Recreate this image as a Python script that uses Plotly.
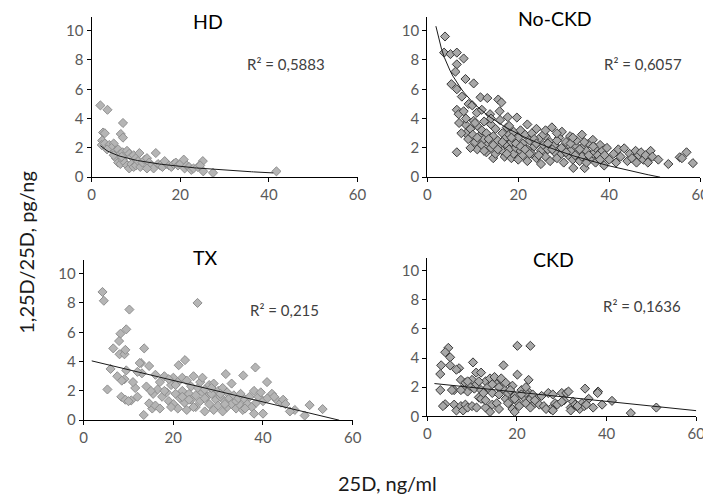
import numpy as np
import plotly.graph_objects as go

# ---------------- data ----------------
hd_x = [2.0, 3.6, 7.1, 2.6, 3.0, 6.6, 7.1, 2.4, 2.3, 3.0, 4.0, 5.0, 4.5, 3.5, 5.5, 6.0, 6.5, 7.0,
        7.5, 8.0, 8.5, 9.0, 9.5, 10.0, 10.8, 5.5, 6.0, 6.5, 7.0, 7.5, 8.0, 8.5, 9.0, 9.5, 10.0, 10.5,
        11.0, 11.5, 12.0, 12.5, 13.0, 13.5, 14.0, 14.5, 15.0, 15.5, 16.0, 17.0, 17.5, 18.0, 18.5, 19.0,
        19.5, 20.0, 20.8, 21.0, 21.5, 22.0, 22.5, 23.0, 24.0, 25.1, 25.2, 24.5, 27.4, 41.7, 6.8, 5.0,
        12.5, 16.5]
hd_y = [4.9, 4.6, 3.7, 3.05, 3.0, 2.95, 2.7, 2.5, 2.2, 2.3, 2.2, 2.3, 2.0, 1.9, 1.8, 1.9, 1.6, 1.7,
        1.5, 1.8, 1.6, 1.4, 1.5, 1.3, 1.65, 1.3, 1.0, 0.9, 1.2, 1.0, 0.8, 0.6, 0.9, 0.7, 0.8, 1.1,
        0.7, 1.0, 1.2, 1.3, 1.0, 0.8, 0.6, 1.65, 0.9, 0.8, 0.7, 0.9, 0.8, 0.7, 0.9, 1.0,
        0.8, 0.9, 1.2, 0.6, 0.8, 0.7, 0.5, 0.6, 0.7, 1.1, 0.4, 0.8, 0.3, 0.4, 1.4, 1.5,
        0.6, 1.1]

nockd_x = [3.9, 3.7, 5.1, 6.5, 8.0, 6.5, 6.2, 8.4, 10.2, 5.3, 6.5, 7.6, 11.7, 13.2, 15.6, 16.3, 9.1, 9.9,
           6.5, 6.9, 8.0, 10.9, 13.8, 15.9, 17.7, 19.7, 8.4, 10.2, 6.5, 14.5,
           8.5, 9.0, 9.5, 10.0, 10.5, 11.0, 11.0, 11.5, 12.0, 12.0, 12.5, 12.5, 13.0, 13.0, 13.5, 14.0,
           14.0, 14.5, 15.0, 15.0, 15.5, 16.0, 16.0, 16.5, 16.5, 17.0, 17.0, 17.5, 17.5, 18.0, 18.0,
           18.5, 18.5, 19.0, 19.0, 19.5, 20.0, 20.0, 20.5, 20.5,
           21.0, 21.0, 21.5, 22.0, 22.0, 22.5, 23.0, 23.0, 23.5, 24.0, 24.0, 24.5, 25.0, 25.0, 25.5,
           26.0, 26.0, 26.5, 27.0, 27.0, 27.4, 28.0, 28.0, 28.5, 29.0, 29.6, 29.5, 30.0, 30.0,
           30.5, 31.0, 31.4, 31.5, 32.0, 32.1, 32.5, 32.8, 33.0, 33.5, 34.0, 34.0, 34.6, 35.0, 35.0,
           35.5, 36.0, 36.4, 36.5, 37.0, 37.0, 37.5, 38.0, 38.0, 38.5, 38.9, 39.0, 39.5, 40.0,
           41.0, 41.5, 42.0, 42.5, 43.3, 44.0, 44.5, 45.0, 45.8, 46.0, 46.5, 47.0, 47.5, 48.0, 48.5,
           49.1, 49.5, 50.8, 53.0, 55.5, 56.0, 57.0, 58.4,
           11.0, 12.5, 13.5, 14.5, 15.5, 16.5, 17.5, 18.5, 19.5, 20.5, 21.5, 22.5, 23.5, 24.5, 25.5,
           26.5, 27.5, 28.5, 29.5, 30.5, 31.5, 32.5, 33.5, 34.5, 35.5, 36.5, 9.5, 10.5, 7.5, 8.5,
           7.0, 12.0, 14.0, 18.0, 22.0, 24.0, 26.0, 28.5, 32.0, 34.0]
nockd_y = [9.6, 8.5, 8.4, 8.5, 8.1, 7.7, 7.2, 6.7, 6.4, 6.35, 6.0, 5.5, 5.45, 5.4, 5.3, 5.1, 5.0, 4.9,
           4.6, 4.3, 4.5, 4.4, 4.3, 4.5, 4.1, 4.07, 3.6, 3.85, 1.7, 1.3,
           3.0, 2.6, 3.3, 2.9, 2.4, 3.5, 1.9, 2.8, 3.2, 2.2, 3.8, 2.6, 1.7, 3.0, 2.3, 3.6,
           2.0, 2.8, 3.3, 1.6, 2.5, 3.9, 2.1, 1.8, 3.0, 2.6, 1.4, 3.4, 2.2, 1.9, 2.9,
           1.3, 2.4, 3.1, 1.6, 2.0, 2.7, 1.2, 3.2, 1.8,
           2.3, 1.5, 2.9, 1.9, 1.1, 2.5, 3.0, 1.6, 2.1, 1.3, 3.3, 2.6, 1.8, 0.9, 2.2,
           2.8, 1.4, 1.9, 2.4, 1.1, 3.4, 1.7, 2.2, 1.3, 2.7, 3.1, 1.6, 2.0, 1.0,
           2.4, 1.5, 2.8, 1.8, 1.2, 0.63, 2.2, 2.5, 1.6, 1.1, 2.0, 1.4, 0.62, 1.8, 1.0,
           2.3, 1.3, 2.55, 1.6, 2.0, 1.0, 1.5, 2.2, 1.2, 1.8, 0.8, 1.5, 2.0, 1.2,
           1.6, 1.0, 1.9, 1.4, 1.97, 1.1, 1.6, 1.3, 1.8, 1.0, 1.5, 1.7, 1.2, 1.5, 1.0,
           1.8, 1.4, 1.2, 0.9, 1.36, 1.3, 1.7, 0.96,
           2.7, 1.8, 2.6, 2.2, 1.9, 2.4, 1.6, 2.7, 2.3, 2.1, 1.9, 1.6, 2.6, 1.5, 2.9,
           2.3, 1.9, 2.5, 2.0, 1.7, 2.3, 1.5, 1.9, 2.4, 1.5, 2.1, 2.0, 3.7, 3.0, 4.0,
           3.7, 4.6, 4.0, 3.5, 3.6, 2.3, 3.2, 3.0, 2.7, 2.9]

tx_x = [4.2, 4.5, 25.4, 10.2, 9.5, 8.2, 7.9, 6.6, 13.5, 8.0, 9.1, 9.3, 5.3, 22.6, 21.2, 12.8, 14.6,
        38.3, 31.7, 35.6, 9.5, 9.1, 8.4, 9.3, 10.6, 11.5, 12.0, 13.4, 15.3, 14.6, 50.4, 53.3, 49.3,
        47.1, 40.9,
        15.5, 16.0, 16.5, 17.0, 17.5, 18.0, 18.5, 19.0, 19.5, 20.0, 20.0, 20.5, 21.0, 21.0, 21.5,
        22.0, 22.0, 22.5, 23.0, 23.0, 23.5, 24.0, 24.0, 24.5, 25.0, 25.0, 25.5, 26.0, 26.0, 26.5,
        27.0, 27.0, 27.5, 28.0, 28.0, 28.5, 29.0, 29.0, 29.5, 30.0, 30.0, 30.5, 31.0, 31.0, 31.5,
        32.0, 32.0, 32.5, 33.0, 33.5, 34.0, 34.0, 34.5, 35.0, 35.5, 36.0, 36.5, 37.0, 37.5, 38.0,
        38.0, 38.5, 39.0, 39.5, 40.0, 40.0, 41.0, 42.0, 43.0, 44.0, 44.5, 46.0, 18.0, 16.0, 17.0,
        19.0, 14.0, 13.0, 12.5, 11.0, 10.0, 6.0, 7.5, 8.5, 12.0, 15.0, 20.5, 23.5, 26.5, 28.5,
        30.5, 33.0, 35.0, 36.0, 42.5, 45.0, 31.5, 27.0, 24.5, 22.0, 19.5]
tx_y = [8.75, 8.15, 8.0, 7.55, 6.2, 5.9, 5.4, 4.9, 4.9, 4.5, 4.5, 4.8, 2.1, 4.1, 3.75, 3.9, 3.7,
        3.6, 3.15, 3.05, 3.4, 2.8, 1.6, 1.4, 1.35, 2.2, 1.6, 0.36, 0.8, 1.15, 1.03, 0.76, 0.32,
        0.7, 2.6,
        1.8, 3.1, 2.1, 2.6, 1.6, 3.0, 1.9, 1.3, 2.4, 2.9, 1.1, 1.8, 2.6, 0.8, 1.5,
        2.9, 2.0, 1.2, 2.7, 0.7, 1.8, 2.3, 1.4, 3.0, 1.7, 0.9, 2.2, 2.6, 1.3, 1.9,
        0.6, 2.1, 1.6, 2.4, 1.1, 1.8, 2.5, 0.7, 1.4, 2.0, 1.0, 1.6, 2.2, 0.6, 1.3,
        1.9, 0.9, 1.5, 1.1, 1.7, 1.3, 0.8, 1.5, 1.0, 0.7, 1.4, 1.1, 1.6, 0.9, 2.0,
        0.45, 1.2, 1.6, 1.9, 0.45, 1.3, 1.5, 1.8, 1.4, 1.2, 1.4, 0.6, 2.0, 1.0, 0.8,
        2.8, 2.3, 3.2, 3.9, 2.6, 1.3, 3.5, 3.0, 2.7, 3.3, 2.0, 2.4, 1.4, 2.9, 2.2,
        1.8, 2.5, 1.8, 0.8, 1.6, 1.1, 1.1, 1.5, 0.9, 1.6, 0.9]

ckd_x = [20.1, 23.0, 4.7, 4.0, 5.1, 3.1, 5.1, 7.1, 2.9, 10.2, 17.0, 10.9, 12.0, 20.1, 22.6, 2.9,
         35.2, 38.1, 41.2, 51.1, 45.4, 4.0,
         6.0, 7.5, 8.0, 8.5, 9.0, 9.5, 10.0, 10.5, 11.0, 11.5, 12.0, 12.5, 13.0, 13.5, 14.0, 14.5,
         15.0, 15.5, 16.0, 16.5, 17.0, 17.5, 18.0, 18.5, 19.0, 19.5, 20.0, 21.0, 21.5, 22.0, 22.5,
         23.0, 23.5, 24.0, 24.5, 25.0, 26.0, 27.0, 27.5, 28.0, 28.5, 29.0, 30.0, 30.5, 31.0, 31.5,
         32.0, 32.5, 33.0, 34.0, 34.5, 35.0, 36.0, 37.0, 38.0, 39.0,
         6.0, 6.5, 7.5, 8.0, 8.5, 9.0, 10.0, 11.0, 12.0, 13.0, 14.0, 14.5, 15.5, 16.0, 18.0, 19.0,
         19.5, 20.5, 22.0, 23.0, 24.0, 25.5, 26.5, 28.0, 30.0, 32.0, 33.5, 35.5,
         6.5, 7.5, 9.0, 11.5, 12.5, 13.0, 14.5, 16.0, 17.5, 18.5, 19.5, 21.0, 22.0, 5.5, 3.5]
ckd_y = [4.84, 4.84, 4.7, 4.4, 4.05, 3.5, 3.5, 3.3, 2.9, 3.7, 3.5, 3.0, 3.0, 2.86, 2.5, 1.8,
         1.9, 1.7, 1.06, 0.6, 0.22, 0.83,
         1.8, 2.5, 1.9, 2.3, 1.7, 2.1, 2.5, 1.9, 2.2, 1.3, 1.8, 1.2, 2.4, 2.0, 2.6, 1.6,
         2.7, 2.2, 1.5, 2.6, 1.9, 1.2, 1.6, 1.0, 2.1, 1.4, 1.0, 1.8, 1.3, 0.9, 1.7,
         1.2, 1.5, 0.9, 1.2, 0.8, 0.7, 1.6, 0.5, 1.5, 0.9, 0.8, 1.6, 1.1, 1.6, 1.7,
         0.6, 1.0, 0.8, 0.5, 0.9, 0.7, 1.2, 0.6, 1.6, 0.8,
         0.8, 0.4, 0.7, 0.4, 0.8, 0.6, 0.7, 0.6, 1.2, 0.6, 0.3, 0.8, 0.9, 0.5, 0.9, 0.5,
         0.3, 0.7, 1.6, 0.6, 1.1, 1.4, 0.5, 0.4, 1.0, 0.4, 0.7, 0.8,
         3.2, 1.8, 2.4, 2.4, 1.6, 1.1, 2.2, 2.0, 2.3, 1.8, 1.2, 1.5, 2.0, 1.8, 0.7]

# trendlines: HD / No-CKD logarithmic (y = a - b*ln x), TX / CKD linear (y = a + b*x)
hd_trend = dict(kind="log", a=2.58, b=0.616, x0=2.0, x1=41.0)
nockd_trend = dict(kind="log", a=12.31, b=3.127, x0=1.9, x1=51.2)
tx_trend = dict(kind="lin", a=4.18, b=-0.0733, x0=1.8, x1=57.0)
ckd_trend = dict(kind="lin", a=2.30, b=-0.0319, x0=1.6, x1=60.0)

panel_names = ["HD", "No-CKD", "TX", "CKD"]
r2_labels = ["R² = 0,5883", "R² = 0,6057", "R² = 0,215", "R² = 0,1636"]
x_ticks = [0, 20, 40, 60]
y_ticks = [0, 2, 4, 6, 8, 10]

# ---------------- figure ----------------
W, H = 711, 495


def px(x):
    return x / W


def py(y):
    return 1 - y / H


def trend_xy(t):
    xs = np.linspace(t["x0"], t["x1"], 80)
    if t["kind"] == "log":
        ys = t["a"] - t["b"] * np.log(xs)
    else:
        ys = t["a"] + t["b"] * xs
    return xs, ys


# panel geometry in pixels: x-left (x=0), x-right (x=60), y of 0, y of 10
panels = [
    dict(x0=81, x1=352, y0=172, y10=23),
    dict(x0=423, x1=701, y0=172, y10=23),
    dict(x0=73, x1=347, y0=419, y10=270),
    dict(x0=423, x1=697, y0=415, y10=267),
]
series = [(hd_x, hd_y, hd_trend), (nockd_x, nockd_y, nockd_trend),
          (tx_x, tx_y, tx_trend), (ckd_x, ckd_y, ckd_trend)]
marker_styles = [
    dict(fill="#b5b5b5", line="#8f8f8f"),
    dict(fill="#a8a8a8", line="#3a3a3a"),
    dict(fill="#b5b5b5", line="#8f8f8f"),
    dict(fill="#a8a8a8", line="#3a3a3a"),
]
title_pos = [(200, 14), (553, 11), (197, 254), (552, 256)]
r2_pos = [(279, 57), (643, 57), (278, 307), (642, 303)]

fig = go.Figure()
YMAX = 10.9
font_fam = "Lato, 'Open Sans', sans-serif"

for i, (p, (xs, ys, tr), ms) in enumerate(zip(panels, series, marker_styles)):
    n = "" if i == 0 else str(i + 1)
    unit = (p["y0"] - p["y10"]) / 10.0
    ytop = p["y0"] - unit * YMAX
    fig.add_trace(go.Scatter(
        x=xs, y=ys, mode="markers", xaxis="x" + n, yaxis="y" + n,
        marker=dict(symbol="diamond", size=7, color=ms["fill"],
                    line=dict(color=ms["line"], width=1)),
        showlegend=False, hoverinfo="x+y"))
    tx_, ty_ = trend_xy(tr)
    fig.add_trace(go.Scatter(
        x=tx_, y=ty_, mode="lines", xaxis="x" + n, yaxis="y" + n,
        line=dict(color="#1a1a1a", width=1), showlegend=False, hoverinfo="skip"))
    fig.layout["xaxis" + n] = dict(
        domain=[px(p["x0"]), px(p["x1"])], anchor="y" + n, range=[0, 60],
        tickvals=x_ticks, ticks="outside", ticklen=4, tickcolor="#000",
        showline=True, linecolor="#000", linewidth=1, showgrid=False, zeroline=False,
        tickfont=dict(family=font_fam, size=15, color="#595959"))
    fig.layout["yaxis" + n] = dict(
        domain=[py(p["y0"]), py(ytop)], anchor="x" + n, range=[0, YMAX],
        tickvals=y_ticks, ticks="outside", ticklen=4, tickcolor="#000",
        showline=True, linecolor="#000", linewidth=1, showgrid=False, zeroline=False,
        tickfont=dict(family=font_fam, size=15, color="#595959"))
    fig.add_annotation(x=px(title_pos[i][0]), y=py(title_pos[i][1]), xref="paper", yref="paper",
                       text=panel_names[i], showarrow=False, xanchor="center", yanchor="middle",
                       font=dict(family=font_fam, size=19.5, color="#000"))
    fig.add_annotation(x=px(r2_pos[i][0]), y=py(r2_pos[i][1]), xref="paper", yref="paper",
                       text=r2_labels[i], showarrow=False, xanchor="center", yanchor="middle",
                       font=dict(family=font_fam, size=15, color="#404040"))

fig.add_annotation(x=px(382), y=py(483), xref="paper", yref="paper", text="25D, ng/ml",
                   showarrow=False, xanchor="center", yanchor="middle",
                   font=dict(family=font_fam, size=20, color="#1a1a1a"))
fig.add_annotation(x=px(14), y=py(248), xref="paper", yref="paper", text="1,25D/25D, pg/ng",
                   showarrow=False, xanchor="center", yanchor="middle", textangle=-90,
                   font=dict(family=font_fam, size=20, color="#1a1a1a"))

fig.update_layout(width=W, height=H, margin=dict(l=0, r=0, t=0, b=0),
                  plot_bgcolor="white", paper_bgcolor="white")
fig.write_html("out.html")
